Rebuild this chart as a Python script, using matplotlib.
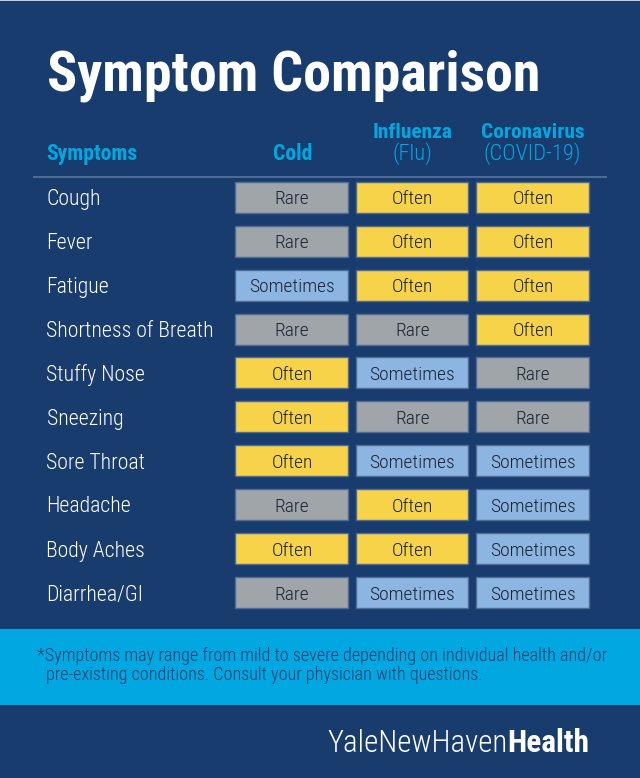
import matplotlib
matplotlib.use('Agg')
import matplotlib.pyplot as plt
from matplotlib.patches import Rectangle

symptoms = ['Cough', 'Fever', 'Fatigue', 'Shortness of Breath', 'Stuffy Nose',
            'Sneezing', 'Sore Throat', 'Headache', 'Body Aches', 'Diarrhea/GI']
cold = ['Rare', 'Rare', 'Sometimes', 'Rare', 'Often', 'Often', 'Often', 'Rare', 'Often', 'Rare']
flu = ['Often', 'Often', 'Often', 'Rare', 'Sometimes', 'Rare', 'Sometimes', 'Often', 'Often', 'Sometimes']
covid = ['Often', 'Often', 'Often', 'Often', 'Rare', 'Rare', 'Sometimes', 'Sometimes', 'Sometimes', 'Sometimes']

NAVY = '#183c6e'
CYAN = '#00a7e1'
COLORS = {'Rare': '#9fa5a9', 'Often': '#f6d349', 'Sometimes': '#8cb5e2'}

plt.rcParams['font.family'] = ['Roboto Condensed', 'Archivo Narrow', 'PT Sans Narrow', 'Roboto', 'DejaVu Sans']

fig = plt.figure(figsize=(6.4, 7.78), dpi=100, facecolor=NAVY)
ax = fig.add_axes([0, 0, 1, 1])
ax.set_xlim(0, 640)
ax.set_ylim(778, 0)
ax.axis('off')

# thin light line at the very top
ax.add_patch(Rectangle((0, 0), 640, 1, color='#c8ccd0', lw=0))

ax.text(47, 90, 'Symptom Comparison', color='white', fontsize=40.3, fontweight='bold', va='baseline')

# header
ax.text(46.5, 160, 'Symptoms', color=CYAN, fontsize=15.6, fontweight='bold', va='baseline')
ax.text(293, 160, 'Cold', color=CYAN, fontsize=15.6, fontweight='bold', ha='center', va='baseline')
ax.text(412.5, 138, 'Influenza', color=CYAN, fontsize=15.4, fontweight='bold', ha='center', va='baseline')
ax.text(412.5, 160, '(Flu)', color=CYAN, fontsize=16.2, fontweight='light', ha='center', va='baseline')
ax.text(532.5, 138, 'Coronavirus', color=CYAN, fontsize=15.4, fontweight='bold', ha='center', va='baseline')
ax.text(532.5, 160, '(COVID-19)', color=CYAN, fontsize=16.2, fontweight='light', ha='center', va='baseline')
ax.plot([33, 607], [176.5, 176.5], color='#4f6a93', lw=1.5, solid_capstyle='butt')

# table rows
col_left = [235, 355.5, 476]
for i, name in enumerate(symptoms):
    y = 197.5 + i * 43.85
    text_y = 196.5 + i * 44
    ax.text(46.5, text_y, name, color='white', fontsize=15.7, fontweight='light', va='center_baseline')
    for left, col in zip(col_left, [cold, flu, covid]):
        val = col[i]
        ax.add_patch(Rectangle((left, y - 15.5), 112.5, 31, facecolor=COLORS[val],
                               edgecolor='#4f6a93', lw=1))
        ax.text(left + 57, text_y + 0.3, val, color='#1a2433', fontsize=14, fontweight='light',
                ha='center', va='center_baseline')

# footnote band
ax.add_patch(Rectangle((0, 629), 640, 76, color=CYAN, lw=0))
ax.text(37, 661, '*Symptoms may range from mild to severe depending on individual health and/or',
        color=NAVY, fontsize=13.05, fontweight='light', va='baseline')
ax.text(46, 680, 'pre-existing conditions. Consult your physician with questions.',
        color=NAVY, fontsize=13.05, fontweight='light', va='baseline')

# logo text
ax.text(507.5, 752, 'YaleNewHaven', color='white', fontsize=22.2, fontweight='light', ha='right', va='baseline')
ax.text(507.5, 752, 'Health', color='white', fontsize=22.6, fontweight='bold', ha='left', va='baseline')

fig.savefig('out.png', dpi=100, facecolor=NAVY)
